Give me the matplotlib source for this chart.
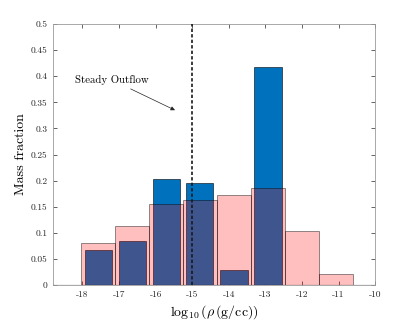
import matplotlib
matplotlib.use("Agg")
import matplotlib.pyplot as plt
import numpy as np

# bin centres of log10(rho), shared by both histograms
centers = [-17.57, -16.64, -15.71, -14.79, -13.86, -12.93, -12.00, -11.07]
steady_frac = [0.068, 0.084, 0.204, 0.195, 0.029, 0.417]
other_frac = [0.080, 0.114, 0.156, 0.162, 0.172, 0.185, 0.103, 0.022]

xticks = [-18, -17, -16, -15, -14, -13, -12, -11, -10]
yticks = [0, 0.05, 0.1, 0.15, 0.2, 0.25, 0.3, 0.35, 0.4, 0.45, 0.5]
steady_x = -15

plt.rcParams['font.family'] = 'serif'
plt.rcParams['font.serif'] = ['cmr10', 'DejaVu Serif']
plt.rcParams['mathtext.fontset'] = 'cm'
plt.rcParams['axes.unicode_minus'] = False

fig = plt.figure(figsize=(4.15, 3.21), dpi=100)
ax = fig.add_axes([0.128, 0.112, 0.776, 0.813])

step = centers[1] - centers[0]
ax.bar(centers[:len(steady_frac)], steady_frac, width=0.8 * step,
       color=(0, 0.447, 0.741), edgecolor=(0, 0, 0, 0.8), linewidth=0.5, zorder=2)
ax.bar(centers, other_frac, width=step,
       facecolor=(1, 0, 0, 0.25), edgecolor=(0, 0, 0, 0.5), linewidth=0.6, zorder=3)

ax.axhline(0, color='black', linewidth=0.8, zorder=4)
ax.axvline(steady_x, color='#1a1a1a', linestyle='--', linewidth=1.2,
           dashes=(2.0, 1.3), zorder=5)

ax.annotate('Steady Outflow', xy=(-15.47, 0.335), xytext=(-18.2, 0.393),
            fontsize=7.8, va='center', ha='left',
            arrowprops=dict(arrowstyle='-|>', color='#222222', lw=0.5,
                            mutation_scale=6, shrinkA=2, shrinkB=0))

ax.set_xlim(-18.8, -10)
ax.set_ylim(0, 0.5)
ax.set_xticks(xticks)
ax.set_xticklabels([str(t) for t in xticks])
ax.set_yticks(yticks)
ax.set_yticklabels(['0'] + ['%g' % t for t in yticks[1:]])
ax.tick_params(direction='in', length=3, width=0.5, labelsize=6.8,
               top=True, right=True, colors='#262626', labelcolor='#262626',
               pad=4)
for s in ax.spines.values():
    s.set_color('#9a9a9a')
    s.set_linewidth(0.6)

ax.set_xlabel(r'$\log_{10}(\rho\,(\mathrm{g/cc}))$', fontsize=10, labelpad=3)
ax.set_ylabel('Mass fraction', fontsize=10, labelpad=3)

fig.savefig('out.png', dpi=100)
